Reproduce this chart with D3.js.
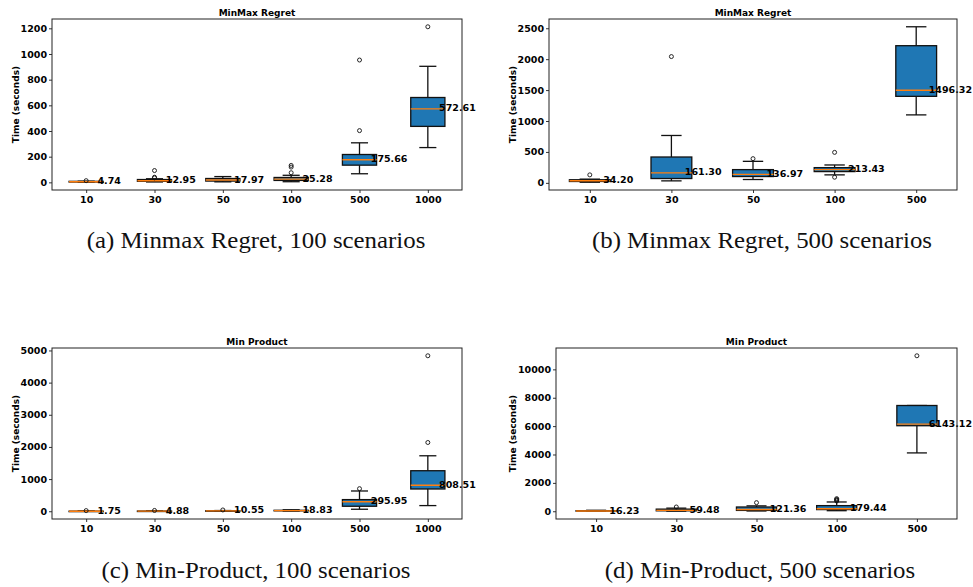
<!DOCTYPE html>
<html><head><meta charset="utf-8">
<script src="https://cdn.jsdelivr.net/npm/d3@7"></script>
<style>
body{margin:0;background:#fff;}
svg{display:block;}
.tick text{font-family:"DejaVu Sans";font-weight:bold;}
</style></head>
<body><svg id="chart" width="973" height="587"></svg>
<script>
// ---- data (each box: [whiskerLow, q1, median, q3, whiskerHigh]) ----
const catsA = ["10","30","50","100","500","1000"];
const boxesA = [[1,2.5,4.74,8,9],[3,8,12.95,22,28],[4,10,17.97,30,45],[5,15,25.28,38,55],[67,134,175.66,217,308],[271,436,572.61,661,904]];
const outA = [[13],[35,40,92],[],[75,119,132],[403,953],[1212]];
const ticksA = [0,200,400,600,800,1000,1200];

const catsB = ["10","30","50","100","500"];
const boxesB = [[10,22,34.20,50,60],[32,70,161.30,418,766],[54,102,136.97,214,348],[129,182,213.43,246,289],[1099,1399,1496.32,2218,2524]];
const outB = [[129],[2042],[391],[91,493],[]];
const ticksB = [0,500,1000,1500,2000,2500];

const catsC = ["10","30","50","100","500","1000"];
const boxesC = [[0.5,1,1.75,3,5],[1,3,4.88,7,10],[3,6,10.55,15,22],[5,12,18.83,30,45],[62,155,295.95,362,630],[176,692,808.51,1260,1725]];
const outC = [[20],[25],[40],[],[702],[2138,4835]];
const ticksC = [0,1000,2000,3000,4000,5000];

const catsD = ["10","30","50","100","500"];
const boxesD = [[2,8,16.23,40,70],[10,30,59.48,150,220],[20,60,121.36,300,380],[40,117,179.44,397,654],[4112,6028,6143.12,7453,7453]];
const outD = [[],[300],[607],[724,780,830,888],[10958]];
const ticksD = [0,2000,4000,6000,8000,10000];

const titles = ["MinMax Regret","MinMax Regret","Min Product","Min Product"];
const captions = ["(a) Minmax Regret, 100 scenarios","(b) Minmax Regret, 500 scenarios","(c) Min-Product, 100 scenarios","(d) Min-Product, 500 scenarios"];
const yLabel = "Time (seconds)";

// ---- layout ----
const W = 973;
const panels = [
  {cats:catsA, boxes:boxesA, outs:outA, ticks:ticksA, x0:52, x1:462, y0:19, y1:190, cap:[256,248]},
  {cats:catsB, boxes:boxesB, outs:outB, ticks:ticksB, x0:549, x1:957, y0:19, y1:190, cap:[762,248]},
  {cats:catsC, boxes:boxesC, outs:outC, ticks:ticksC, x0:52, x1:462, y0:348, y1:519, cap:[256,578]},
  {cats:catsD, boxes:boxesD, outs:outD, ticks:ticksD, x0:556, x1:957, y0:348, y1:519, cap:[760,578]}
];

const svg = d3.select("#chart");
const fmt = d3.format(".2f");

panels.forEach((p, pi) => {
  const all = p.boxes.flat().concat(p.outs.flat());
  const [mn, mx] = d3.extent(all);
  const pad = (mx - mn) * 0.05;
  const y = d3.scaleLinear().domain([mn - pad, mx + pad]).range([p.y1, p.y0]);
  const x = d3.scalePoint().domain(p.cats).range([p.x0, p.x1]).padding(0.5);
  const step = x.step();
  const bw = step * 0.5;
  const g = svg.append("g");

  // axes
  const ya = g.append("g").attr("transform", `translate(${p.x0},0)`)
    .call(d3.axisLeft(y).tickValues(p.ticks).tickSize(3).tickPadding(2).tickFormat(d3.format("d")));
  const xa = g.append("g").attr("transform", `translate(0,${p.y1})`)
    .call(d3.axisBottom(x).tickSize(3).tickPadding(3));
  [ya, xa].forEach(a => {
    a.select(".domain").remove();
    a.selectAll(".tick line").attr("stroke", "#000").attr("stroke-width", 0.8);
    a.selectAll(".tick text").attr("font-size", 9.5).attr("fill", "#000");
  });

  // y label
  g.append("text").attr("transform", `translate(${pi % 2 === 0 ? 16 : 513},${(p.y0 + p.y1) / 2}) rotate(-90)`)
    .attr("text-anchor", "middle").attr("dominant-baseline", "middle")
    .attr("font-family", "DejaVu Sans").attr("font-weight", "bold").attr("font-size", 9)
    .text(yLabel);

  // title
  g.append("text").attr("x", (p.x0 + p.x1) / 2).attr("y", p.y0 - 3)
    .attr("text-anchor", "middle").attr("font-family", "DejaVu Sans").attr("font-weight", "bold")
    .attr("font-size", 9).text(titles[pi]);

  // boxes
  p.cats.forEach((c, i) => {
    const [lo, q1, md, q3, hi] = p.boxes[i];
    const cx = x(c);
    const bg = g.append("g");
    bg.append("line").attr("x1", cx).attr("x2", cx).attr("y1", y(lo)).attr("y2", y(q1)).attr("stroke", "#111").attr("stroke-width", 1.3);
    bg.append("line").attr("x1", cx).attr("x2", cx).attr("y1", y(q3)).attr("y2", y(hi)).attr("stroke", "#111").attr("stroke-width", 1.3);
    bg.append("line").attr("x1", cx - bw / 4).attr("x2", cx + bw / 4).attr("y1", y(lo)).attr("y2", y(lo)).attr("stroke", "#111").attr("stroke-width", 1.3);
    bg.append("line").attr("x1", cx - bw / 4).attr("x2", cx + bw / 4).attr("y1", y(hi)).attr("y2", y(hi)).attr("stroke", "#111").attr("stroke-width", 1.3);
    bg.append("rect").attr("x", cx - bw / 2).attr("width", bw)
      .attr("y", y(q3)).attr("height", Math.max(0.5, y(q1) - y(q3)))
      .attr("fill", "#1f77b4").attr("stroke", "#111").attr("stroke-width", 1.3);
    bg.append("line").attr("x1", cx - bw / 2).attr("x2", cx + bw / 2).attr("y1", y(md)).attr("y2", y(md))
      .attr("stroke", "#ff7f0e").attr("stroke-width", 1.4);
    p.outs[i].forEach(v => {
      bg.append("circle").attr("cx", cx).attr("cy", y(v)).attr("r", 2)
        .attr("fill", "none").attr("stroke", "#111").attr("stroke-width", 0.9);
    });
    const t = g.append("text").attr("x", cx + step * 0.165).attr("y", y(md))
      .attr("dominant-baseline", "middle").attr("font-family", "DejaVu Sans").attr("font-weight", "bold")
      .attr("font-size", 9.5).attr("fill", "#000").text(fmt(md));
    const bb = t.node().getBBox();
    if (bb.x + bb.width > W - 1) t.attr("x", W - 1 - bb.width);
  });

  // frame
  g.append("rect").attr("x", p.x0).attr("y", p.y0).attr("width", p.x1 - p.x0).attr("height", p.y1 - p.y0)
    .attr("fill", "none").attr("stroke", "#222").attr("stroke-width", 1);

  // caption (Computer-Modern-like width: stretch the serif a little)
  const cap = svg.append("text").attr("x", p.cap[0]).attr("y", p.cap[1]).attr("text-anchor", "middle")
    .attr("font-family", "Liberation Serif").attr("font-size", 23).attr("fill", "#111")
    .text(captions[pi]);
  const nat = cap.node().getComputedTextLength();
  cap.attr("textLength", nat * 1.08).attr("lengthAdjust", "spacingAndGlyphs");
});
</script></body></html>
